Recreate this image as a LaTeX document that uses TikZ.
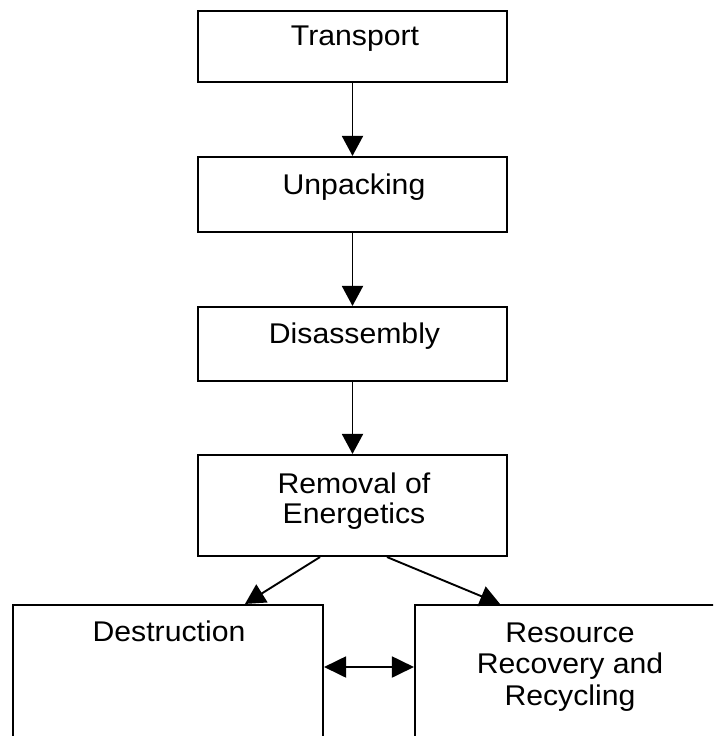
\documentclass[tikz,border=0pt]{standalone}
\usepackage{fontspec}
\setmainfont{Liberation Sans}[FakeStretch=1.06]
\usetikzlibrary{arrows.meta}
\begin{document}
\begin{tikzpicture}[x=1pt,y=1pt,
  box/.style={draw, line width=2.1pt, rectangle, inner sep=0pt},
  lbl/.style={anchor=base, inner sep=0pt, align=center, font=\fontsize{28.5}{30}\selectfont},
  lbltall/.style={lbl, font=\fontsize{28.5}{31.5}\selectfont},
  arr/.style={line width=1.9pt, -{Triangle[length=20pt,width=21pt]}},
  dbl/.style={line width=1.9pt, {Triangle[length=22pt,width=21pt]}-{Triangle[length=22pt,width=21pt]}}]
\useasboundingbox (0,0) rectangle (713,-736);
\clip (0,0) rectangle (713,-736);
\node[box, minimum width=309, minimum height=71] (T) at (352.5,-46.5) {};
\node[box, minimum width=309, minimum height=75] (U) at (352.5,-194.5) {};
\node[box, minimum width=309, minimum height=74] (D) at (352.5,-344) {};
\node[box, minimum width=309, minimum height=101] (R) at (352.5,-505.5) {};
\node[box, minimum width=310, minimum height=260] (Dn) at (168,-735) {};
\node[box, minimum width=310, minimum height=260] (Rs) at (570,-735) {};
\node[lbl] (tT) at (355,-45) {Transport};
\node[lbl] (tU) at (354,-194) {Unpacking};
\node[lbl] (tD) at (354.5,-343) {Disassembly};
\node[lbl] (tR) at (354,-523) {Removal of\\Energetics};
\node[lbl] (tDn) at (169,-641) {Destruction};
\node[lbltall] (tRs) at (570,-705) {Resource\\Recovery and\\Recycling};
\draw[arr] (T.south) -- (U.north);
\draw[arr] (U.south) -- (D.north);
\draw[arr] (D.south) -- (R.north);
\draw[arr] ([xshift=-32.5]R.south) -- ([xshift=77]Dn.north);
\draw[arr] ([xshift=34.5]R.south) -- ([xshift=-70]Rs.north);
\draw[dbl] (Dn.east |- 0,-667) -- (Rs.west |- 0,-667);
\end{tikzpicture}
\end{document}
